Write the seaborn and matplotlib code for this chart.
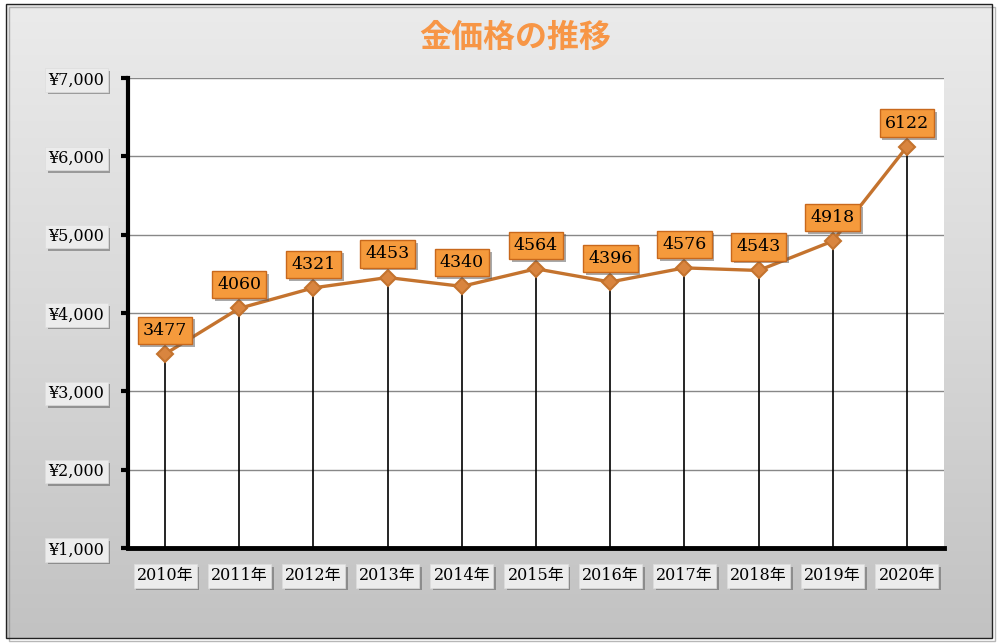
import numpy as np
import matplotlib
matplotlib.use("Agg")
import matplotlib.pyplot as plt
import matplotlib.patheffects as pe
from matplotlib.patches import Rectangle
from matplotlib.ticker import FuncFormatter
import seaborn as sns
import pandas as pd

# Data
years = ["2010年", "2011年", "2012年", "2013年", "2014年", "2015年",
         "2016年", "2017年", "2018年", "2019年", "2020年"]
prices = [3477, 4060, 4321, 4453, 4340, 4564, 4396, 4576, 4543, 4918, 6122]
y_ticks = [1000, 2000, 3000, 4000, 5000, 6000, 7000]
title = "金価格の推移"

LINE = "#C4732E"
ORANGE = "#F59A3C"
TITLE_C = "#F79646"
SERIF = ["DejaVu Serif", "Noto Sans CJK JP"]

sns.set_style("white")
plt.rcParams["font.family"] = ["Noto Sans CJK JP", "DejaVu Sans"]

fig = plt.figure(figsize=(10, 6.43), dpi=100)

# gray gradient background inside a thin frame
bg = fig.add_axes([0, 0, 1, 1], zorder=-5)
bg.set_xlim(0, 1)
bg.set_ylim(0, 1)
bg.axis("off")
x0, x1 = 6 / 1000, 992 / 1000
y0, y1 = 5 / 643, 639 / 643
grad = np.linspace(0, 1, 256).reshape(-1, 1)
cmap = matplotlib.colors.LinearSegmentedColormap.from_list("g", ["#c2c2c2", "#d8d8d8", "#ebebeb"])
bg.imshow(grad, cmap=cmap, aspect="auto", extent=[x0, x1, y0, y1], origin="lower")
bg.add_patch(Rectangle((x0, y0), x1 - x0, y1 - y0, fill=False, edgecolor="#222222", linewidth=1,
                       path_effects=[pe.SimpleLineShadow(offset=(2, -2), shadow_color="#888888", alpha=0.6),
                                     pe.Normal()]))

ax = fig.add_axes([0.128, 95 / 643, 0.816, 470 / 643])
ax.set_facecolor("white")

df = pd.DataFrame({"year": years, "price": prices, "pos": range(len(years))})

# drop lines from each point down to the axis
ax.vlines(df["pos"], y_ticks[0], df["price"], color="black", linewidth=1.2, zorder=2)

sns.lineplot(data=df, x="pos", y="price", ax=ax, color=LINE, linewidth=2.4,
             marker="D", markersize=8, markerfacecolor="#D9853F",
             markeredgecolor=LINE, markeredgewidth=1.5, zorder=4)

ax.set_xlim(-0.5, len(years) - 0.5)
ax.set_ylim(y_ticks[0], y_ticks[-1])
ax.set_yticks(y_ticks)
ax.set_xticks(df["pos"])
ax.set_xticklabels(years)
ax.yaxis.set_major_formatter(FuncFormatter(lambda v, p: f"¥{int(v):,}"))
ax.set_xlabel("")
ax.set_ylabel("")

ax.grid(axis="y", color="#888888", linewidth=1)
ax.grid(axis="x", visible=False)
ax.set_axisbelow(True)

for side in ["top", "right"]:
    ax.spines[side].set_visible(False)
ax.spines["left"].set_linewidth(3)
ax.spines["bottom"].set_linewidth(3.5)
ax.spines["left"].set_color("black")
ax.spines["bottom"].set_color("black")

ax.tick_params(axis="y", length=5, width=3, color="black", pad=12, left=True)
ax.tick_params(axis="x", length=0, pad=14)

box_shadow = [pe.SimplePatchShadow(offset=(2, -2), shadow_rgbFace="#555555", alpha=0.5), pe.Normal()]
for lab in ax.get_yticklabels() + ax.get_xticklabels():
    lab.set_fontfamily(SERIF)
    lab.set_fontsize(11.5)
    lab.set_color("black")
    lab.set_bbox(dict(boxstyle="square,pad=0.2", facecolor="#ececec", edgecolor="#dddddd", linewidth=0.5))
    lab.get_bbox_patch().set_path_effects(box_shadow)

# orange value labels above the points
for pos, val in zip(df["pos"], df["price"]):
    t = ax.annotate(str(val), (pos, val), xytext=(0, 17), textcoords="offset points",
                    ha="center", va="center", fontsize=12.5, family=SERIF, color="black", zorder=6,
                    bbox=dict(boxstyle="square,pad=0.3", facecolor=ORANGE, edgecolor="#C8681C", linewidth=1))
    t.get_bbox_patch().set_path_effects(box_shadow)

fig.text(0.515, 1 - 38 / 643, title, ha="center", va="center", fontsize=23,
         fontweight="bold", color=TITLE_C)

fig.savefig("out.png", dpi=100)
